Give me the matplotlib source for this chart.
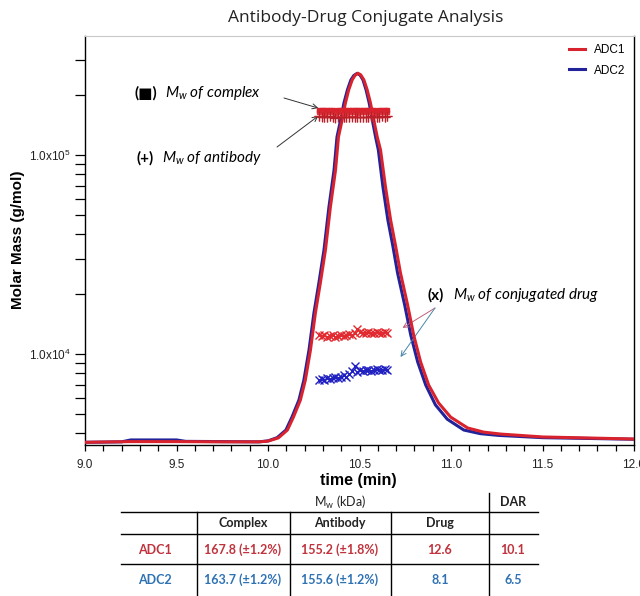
import math
import matplotlib
matplotlib.use("Agg")
import matplotlib.pyplot as plt
from matplotlib.lines import Line2D
from matplotlib.ticker import LogLocator, NullFormatter, FixedLocator, FuncFormatter, MultipleLocator

# --- chromatogram traces (molar mass axis, g/mol) ---
t_adc1 = [9.0, 9.25, 9.5, 9.75, 9.95, 10.0, 10.057, 10.106, 10.139, 10.177, 10.204, 10.232,
          10.259, 10.286, 10.314, 10.341, 10.369, 10.385, 10.405, 10.423, 10.441, 10.46,
          10.475, 10.491, 10.507, 10.524, 10.542, 10.56, 10.578, 10.597, 10.615, 10.642,
          10.67, 10.697, 10.724, 10.763, 10.796, 10.834, 10.878, 10.932, 10.998, 11.091,
          11.179, 11.272, 11.502, 12.0]
m_adc1 = [3600, 3630, 3630, 3620, 3620, 3650, 3790, 4150, 4820, 5870, 7390, 10470,
          16070, 22740, 33350, 54800, 84070, 123100, 149900, 182400, 212300, 238300,
          250800, 257400, 252500, 238300, 212300, 182400, 149900, 123100, 105900, 69100,
          47150, 35000, 25530, 17620, 12460, 9120, 6980, 5680, 4820, 4250,
          4050, 3960, 3830, 3740]

t_adc2 = [9.0, 9.2, 9.25, 9.5, 9.55, 9.75, 9.95, 10.0, 10.05, 10.098, 10.131, 10.169, 10.196,
          10.224, 10.251, 10.278, 10.306, 10.333, 10.361, 10.377, 10.397, 10.415, 10.434,
          10.453, 10.469, 10.487, 10.503, 10.519, 10.536, 10.553, 10.57, 10.588, 10.603,
          10.628, 10.655, 10.682, 10.708, 10.747, 10.78, 10.818, 10.862, 10.915, 10.98,
          11.07, 11.16, 11.26, 11.5, 12.0]
m_adc2 = [3600, 3620, 3700, 3700, 3640, 3630, 3620, 3660, 3800, 4150, 4820, 5870, 7390,
          10470, 16070, 22740, 33350, 54800, 84070, 123100, 149900, 182400, 212300,
          238300, 250800, 257000, 252000, 238300, 212300, 182400, 149900, 123100, 105900,
          69100, 47150, 35000, 25530, 17620, 12460, 9120, 6980, 5550, 4700,
          4150, 3980, 3900, 3800, 3730]

# --- Mw slices across the peak (kDa) ---
t_mw = [10.278, 10.293, 10.308, 10.323, 10.338, 10.353, 10.368, 10.383, 10.398, 10.413,
        10.428, 10.443, 10.458, 10.473, 10.488, 10.503, 10.518, 10.533, 10.548, 10.563,
        10.578, 10.593, 10.608, 10.623, 10.638, 10.653]
complex_adc1 = [168.9, 168.2, 167.5, 167.9, 168.4, 167.6, 167.2, 167.8, 168.1, 167.5, 167.3,
                167.9, 168.2, 167.7, 167.4, 167.8, 168.0, 167.6, 167.9, 168.3, 167.7, 167.2,
                167.8, 168.4, 167.9, 168.6]
complex_adc2 = [164.5, 163.9, 163.4, 163.8, 164.1, 163.5, 163.2, 163.7, 164.0, 163.6, 163.3,
                163.8, 164.1, 163.6, 163.4, 163.7, 163.9, 163.5, 163.8, 164.2, 163.6, 163.1,
                163.7, 164.3, 163.8, 164.4]
antibody_adc1 = [156.8, 155.9, 154.6, 155.3, 156.1, 154.9, 154.2, 155.4, 155.8, 154.7, 154.5,
                 155.6, 156.0, 155.1, 154.6, 155.3, 155.7, 154.8, 155.5, 156.2, 155.0, 154.4,
                 155.3, 156.1, 155.4, 156.5]
antibody_adc2 = [156.9, 156.1, 155.0, 155.7, 156.3, 155.2, 154.8, 155.8, 156.2, 155.1, 154.9,
                 155.9, 156.3, 155.5, 155.0, 155.7, 156.0, 155.2, 155.8, 156.4, 155.4, 154.9,
                 155.6, 156.3, 155.8, 156.6]
drug_adc1 = [12.5, 12.3, 12.4, 12.2, 12.3, 12.4, 12.2, 12.3, 12.5, 12.3, 12.4, 12.6, 12.5,
             12.7, 13.3, 12.9, 12.7, 12.8, 12.9, 12.7, 12.8, 12.9, 12.7, 12.8, 12.9, 12.8]
drug_adc2 = [7.4, 7.5, 7.4, 7.6, 7.5, 7.6, 7.7, 7.6, 7.7, 7.8, 7.7, 7.9, 8.2, 8.7, 8.1, 8.3,
             8.2, 8.3, 8.3, 8.2, 8.3, 8.4, 8.3, 8.3, 8.4, 8.3]

# --- summary table ---
samples = ["ADC1", "ADC2"]
col_heads = ["Complex", "Antibody", "Drug"]
table_rows = [["167.8 (\u00b11.2%)", "155.2 (\u00b11.8%)", "12.6", "10.1"],
              ["163.7 (\u00b11.2%)", "155.6 (\u00b11.2%)", "8.1", "6.5"]]

RED = "#d8232e"
BLUE = "#22229a"
TXT_RED = "#c0323c"
TXT_BLUE = "#2e72b4"

W, H = 640, 596
fig = plt.figure(figsize=(W / 100, H / 100), dpi=100)
ax = fig.add_axes([85 / W, 1 - 445 / H, (634 - 85) / W, (445 - 36) / H])

kda = lambda vals: [v * 1000 for v in vals]

ax.plot(t_adc2, m_adc2, color=BLUE, lw=2.2, label="ADC2", zorder=3)
ax.plot(t_adc1, m_adc1, color=RED, lw=2.2, label="ADC1", zorder=4)

ax.plot(t_mw, kda(complex_adc2), ls="none", marker="s", ms=3.0, color="#e8343c", zorder=5)
ax.plot(t_mw, kda(complex_adc1), ls="none", marker="s", ms=3.0, color=RED, zorder=5)
ax.plot(t_mw, kda(antibody_adc2), ls="none", marker="+", ms=7, mew=0.9, color="#e8343c", zorder=5)
ax.plot(t_mw, kda(antibody_adc1), ls="none", marker="+", ms=7, mew=0.9, color="#b8202a", zorder=5)
ax.plot(t_mw, kda(drug_adc1), ls="none", marker="x", ms=5.5, mew=1.0, color="#e02a30", zorder=5)
ax.plot(t_mw, kda(drug_adc2), ls="none", marker="x", ms=5.5, mew=1.0, color="#2020c0", zorder=5)

ax.set_yscale("log")
ax.set_xlim(9.0, 12.0)
ax.set_ylim(3490, 3.96e5)

ax.xaxis.set_major_locator(MultipleLocator(0.5))
ax.xaxis.set_minor_locator(MultipleLocator(0.1))
ax.xaxis.set_major_formatter(FuncFormatter(lambda v, p: f"{v:.1f}"))
ax.yaxis.set_major_locator(FixedLocator([1e4, 1e5]))
ax.yaxis.set_major_formatter(FuncFormatter(
    lambda v, p: r"$\mathregular{1.0x10^{%d}}$" % round(math.log10(v))))
ax.yaxis.set_minor_locator(LogLocator(base=10, subs=[2, 3, 4, 5, 6, 7, 8, 9]))
ax.yaxis.set_minor_formatter(NullFormatter())
ax.tick_params(axis="both", which="both", direction="out", width=0.9, color="black",
               labelsize=8.5, labelcolor="#222222")
ax.tick_params(axis="y", which="both", length=7)
ax.tick_params(axis="x", which="both", length=4, pad=6)
for lab in ax.get_xticklabels() + ax.get_yticklabels():
    lab.set_family("Liberation Sans")
for s in ["left", "bottom", "right"]:
    ax.spines[s].set_color("black")
    ax.spines[s].set_linewidth(1.0)
ax.spines["top"].set_color("#c8c8c8")

leg = ax.legend(handles=[ax.lines[1], ax.lines[0]], loc="upper right", frameon=False,
                handlelength=1.3, labelspacing=0.7, borderaxespad=0.3,
                prop={"family": "Liberation Sans", "size": 8.5})

fig.text(366 / W, 1 - 18 / H, "Antibody-Drug Conjugate Analysis", ha="center", va="center",
         family="Open Sans", fontsize=12.5, color="#222222")
fig.text(18 / W, 1 - 240 / H, "Molar Mass (g/mol)", rotation=90, ha="center", va="center",
         family="Liberation Sans", fontweight="bold", fontsize=11)
fig.text(358 / W, 1 - 481 / H, "time (min)", ha="center", va="center",
         family="Liberation Sans", fontweight="bold", fontsize=11.5)

# annotations
bold = dict(family=["Lato", "DejaVu Sans"], fontweight="bold", fontsize=11, va="center")
ital = dict(family="Lato", style="italic", fontsize=11, va="center")
fig.text(146 / W, 1 - 93 / H, "(\u25a0)", ha="center", **bold)
fig.text(165 / W, 1 - 93 / H, r"$\mathregular{M_w}$ of complex", ha="left", **ital)
fig.text(145 / W, 1 - 158 / H, "(+)", ha="center", **bold)
fig.text(162 / W, 1 - 158 / H, r"$\mathregular{M_w}$ of antibody", ha="left", **ital)
fig.text(436 / W, 1 - 295 / H, "(x)", ha="center", **bold)
fig.text(453 / W, 1 - 295 / H, r"$\mathregular{M_w}$ of conjugated drug", ha="left", **ital)

def arrow(head, tail_px, color):
    ax.annotate("", xy=head, xycoords="data",
                xytext=(tail_px[0] / W, 1 - tail_px[1] / H), textcoords="figure fraction",
                arrowprops=dict(arrowstyle="->", color=color, lw=0.7, shrinkA=0, shrinkB=0,
                                mutation_scale=9))

arrow((10.275, 1.72e5), (284, 98), "#333333")
arrow((10.275, 1.57e5), (277, 147), "#333333")
arrow((10.735, 13520), (435, 308), "#c0607a")
arrow((10.724, 9660), (435, 308), "#4a88a8")

# table
def hline(y, x0=121, x1=538):
    fig.add_artist(Line2D([x0 / W, x1 / W], [1 - y / H, 1 - y / H], color="black", lw=1.0))

def vline(x, y0, y1=596):
    fig.add_artist(Line2D([x / W, x / W], [1 - y0 / H, 1 - y1 / H], color="black", lw=1.0))

for y in [512, 534, 564]:
    hline(y)
for x in [197, 290, 391]:
    vline(x, 512)
vline(489, 493)

tab = dict(family="Lato", fontsize=9, ha="center", va="center")
fig.text(340 / W, 1 - 502 / H, r"$\mathregular{M_w}$ (kDa)", color="#222222", **tab)
fig.text(513 / W, 1 - 502 / H, "DAR", color="#222222", fontweight="bold", **tab)
col_x = [243, 340, 440, 513]
for x, h in zip(col_x, col_heads):
    fig.text(x / W, 1 - 523 / H, h, color="#222222", fontweight="bold", **tab)
for name, row, y, c in zip(samples, table_rows, [550, 580], [TXT_RED, TXT_BLUE]):
    fig.text(155 / W, 1 - y / H, name, color=c, fontweight="bold", **tab)
    for x, v in zip(col_x, row):
        fig.text(x / W, 1 - y / H, v, color=c, fontweight="bold", **tab)

fig.savefig("out.png", dpi=100)
